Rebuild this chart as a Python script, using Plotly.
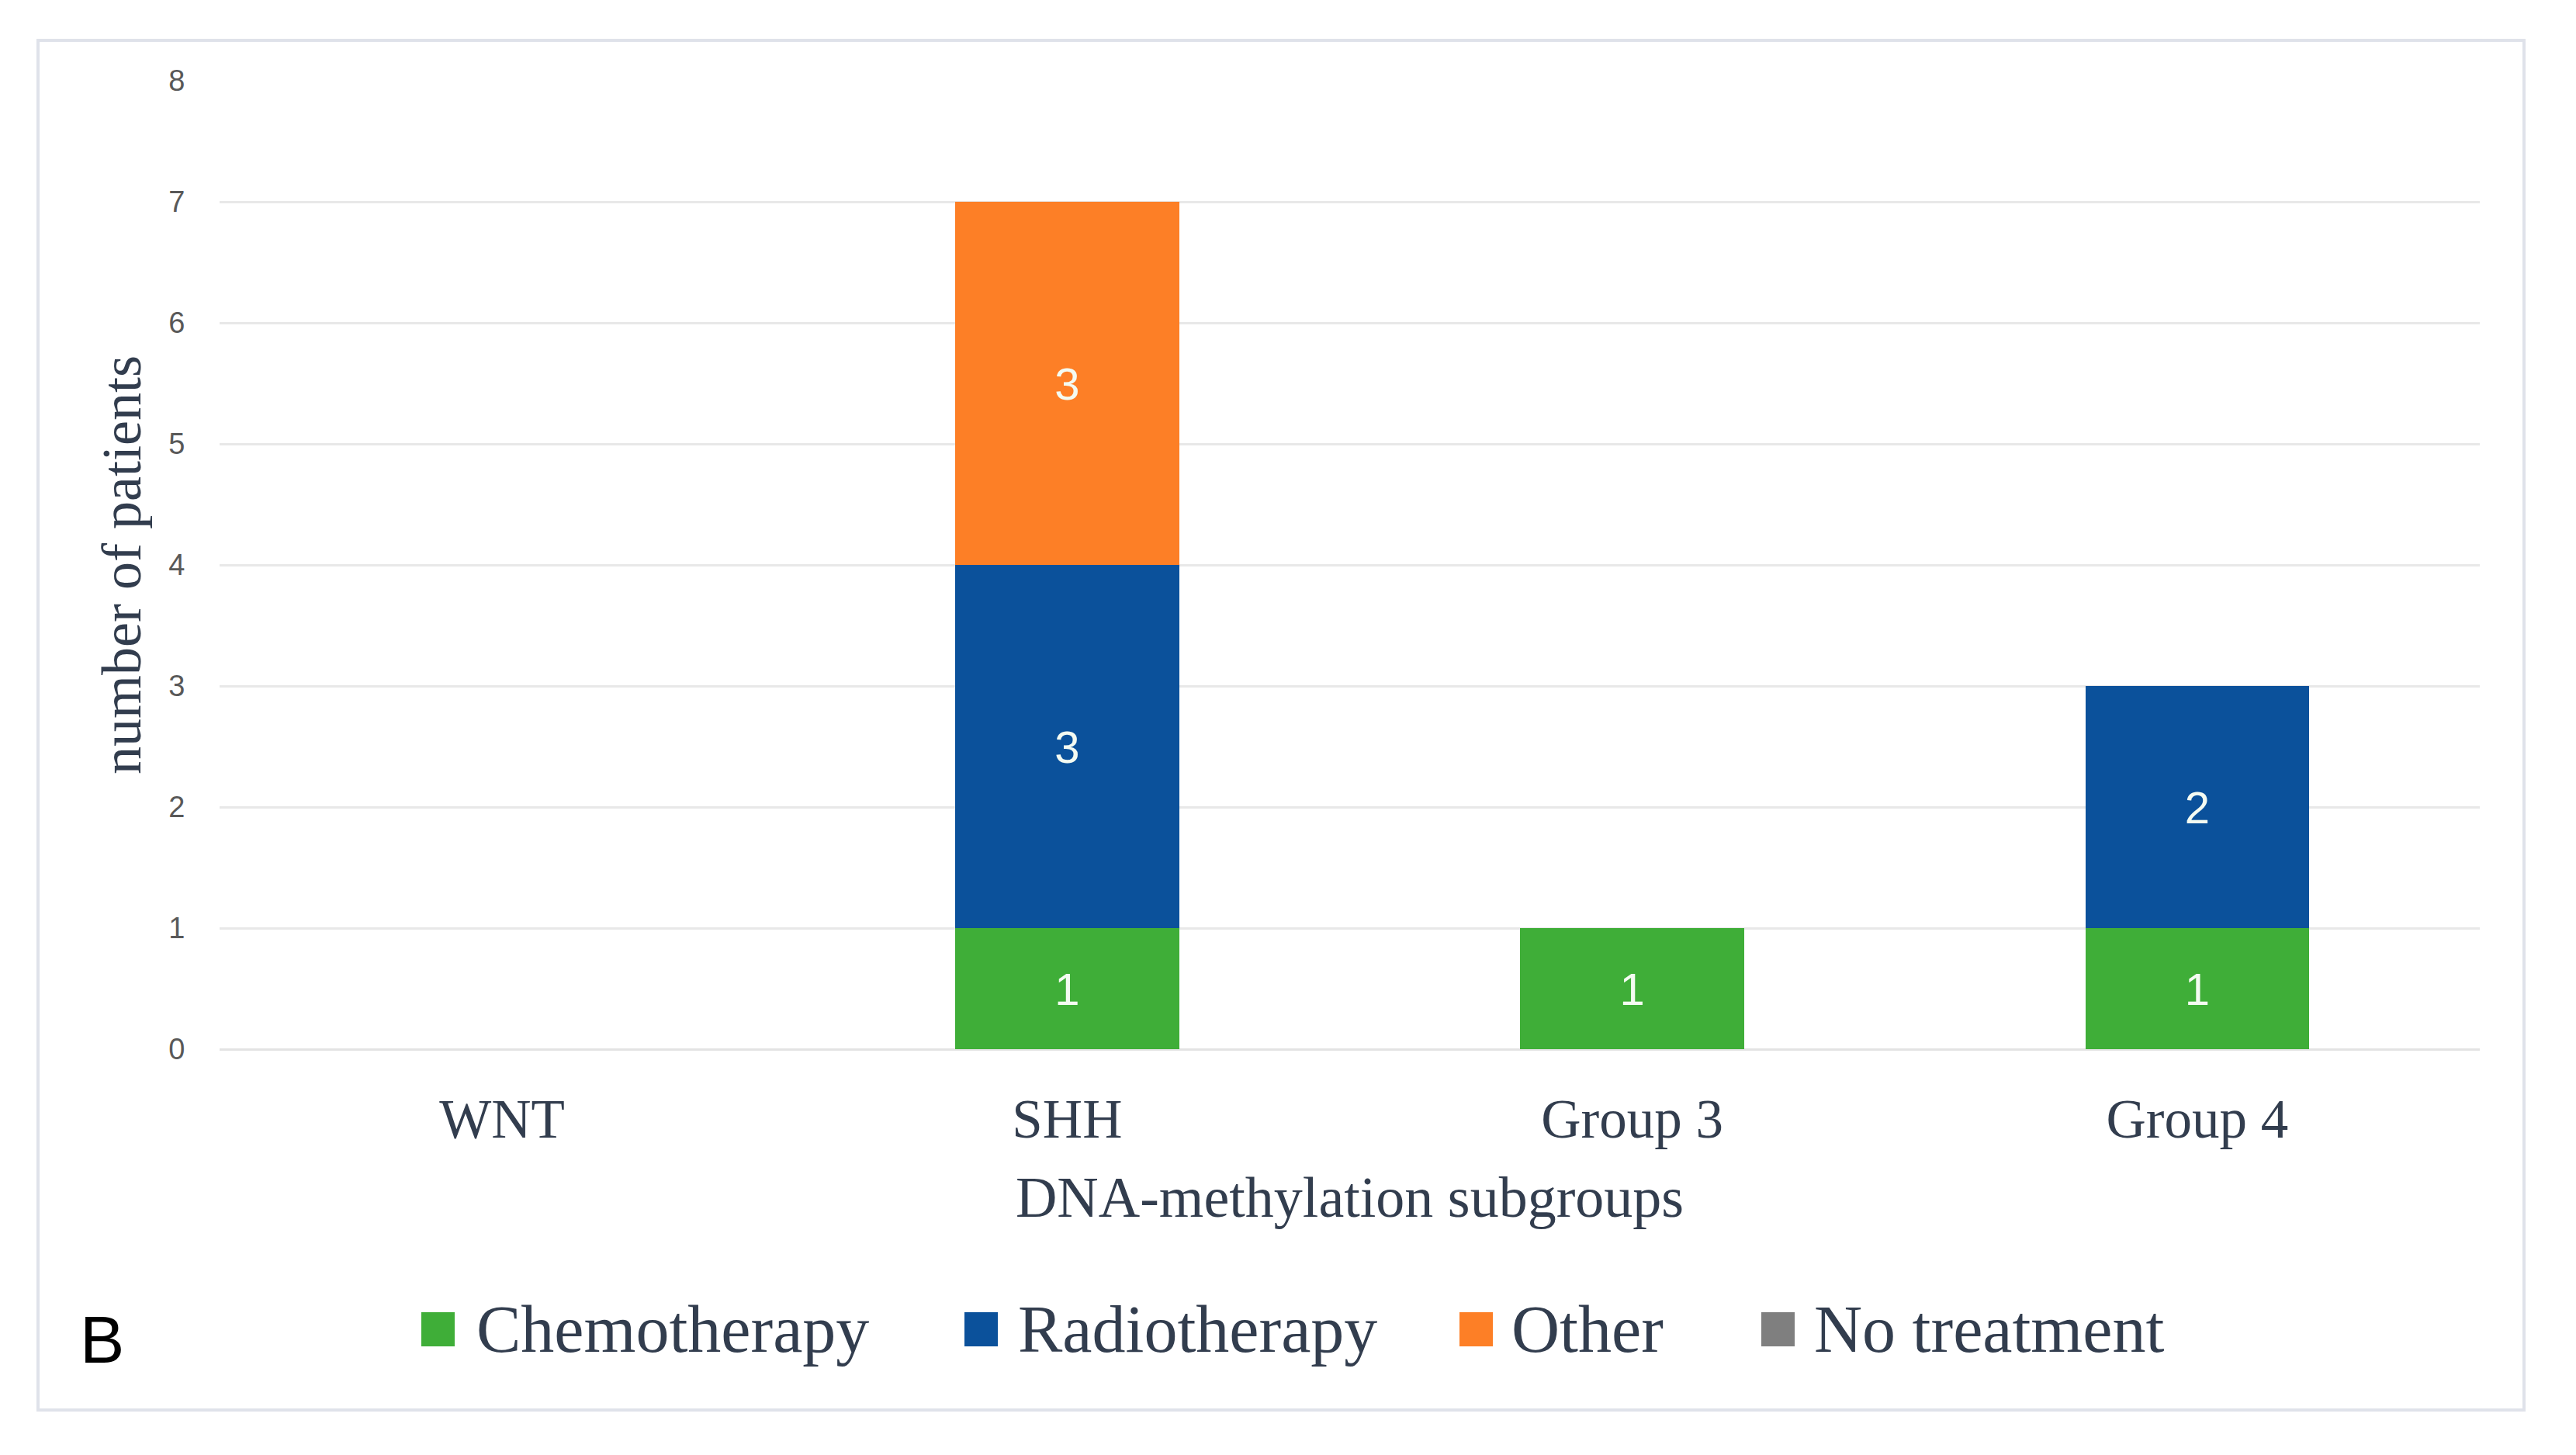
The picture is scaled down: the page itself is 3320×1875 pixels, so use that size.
import plotly.graph_objects as go

# ---- data ----
categories = ["WNT", "SHH", "Group 3", "Group 4"]
chemotherapy = [0, 1, 1, 1]
radiotherapy = [0, 3, 0, 2]
other = [0, 3, 0, 0]
no_treatment = [0, 0, 0, 0]
y_ticks = [0, 1, 2, 3, 4, 5, 6, 7, 8]

series_names = ["Chemotherapy", "Radiotherapy", "Other", "No treatment"]
series_values = [chemotherapy, radiotherapy, other, no_treatment]
series_colors = ["#3fae38", "#0b519b", "#fd7f26", "#7f7f7f"]

# ---- layout geometry (pixels) ----
W, H = 3320, 1875
L, R, T, B = 275, 3188, 96, 1344


def px(X):
    return (X - L) / (R - L)


def py(Y):
    return (B - Y) / (B - T)


SERIF = "Liberation Serif"
SANS = "Liberation Sans"
TEXT_COL = "#323d4e"

fig = go.Figure()
for name, vals, col in zip(series_names, series_values, series_colors):
    fig.add_trace(go.Bar(
        x=categories, y=vals, name=name,
        marker=dict(color=col, line=dict(width=0)),
        text=[str(v) if v else "" for v in vals],
        textposition="inside", insidetextanchor="middle",
        textfont=dict(family=SANS, size=58, color="#f4fbf2"),
        textangle=0,
        showlegend=False,
    ))

shapes = []
annotations = []

# outer frame
shapes.append(dict(type="rect", xref="paper", yref="paper",
                   x0=px(41), x1=px(3245), y0=py(1809), y1=py(44),
                   line=dict(color="#dfe2ea", width=4), fillcolor="rgba(0,0,0,0)",
                   layer="below"))

# legend (squares + labels)
legend_sq_left = [535, 1235, 1873, 2262]
legend_txt_left = [604, 1302, 1938, 2328]
for name, col, sx, tx in zip(series_names, series_colors, legend_sq_left, legend_txt_left):
    shapes.append(dict(type="rect", xref="paper", yref="paper",
                       x0=px(sx), x1=px(sx + 43), y0=py(1727), y1=py(1683),
                       line=dict(width=0), fillcolor=col))
    annotations.append(dict(xref="paper", yref="paper", x=px(tx), y=py(1705),
                            xanchor="left", yanchor="middle", showarrow=False,
                            text=name, font=dict(family=SERIF, size=86, color=TEXT_COL)))

# panel letter
annotations.append(dict(xref="paper", yref="paper", x=px(123), y=py(1718),
                        xanchor="center", yanchor="middle", showarrow=False,
                        text="B", font=dict(family=SANS, size=86, color="#000000")))

fig.update_layout(
    width=W, height=H,
    margin=dict(l=L, r=W - R, t=T, b=H - B, autoexpand=False),
    paper_bgcolor="white", plot_bgcolor="white",
    barmode="stack", bargap=0.604,
    shapes=shapes, annotations=annotations,
    showlegend=False,
    xaxis=dict(
        categoryorder="array", categoryarray=categories,
        showgrid=False, showline=False, zeroline=False,
        ticks="outside", ticklen=28, tickcolor="rgba(0,0,0,0)",
        tickfont=dict(family=SERIF, size=71, color=TEXT_COL),
        title=dict(text="DNA-methylation subgroups", standoff=35,
                   font=dict(family=SERIF, size=74, color=TEXT_COL)),
        automargin=False,
    ),
    yaxis=dict(
        range=[0, 8], tickvals=y_ticks,
        showgrid=True, gridcolor="#e8e8e8", gridwidth=3,
        zeroline=True, zerolinecolor="#e3e3e3", zerolinewidth=3,
        showline=False,
        ticks="outside", ticklen=36, tickcolor="rgba(0,0,0,0)",
        tickfont=dict(family=SANS, size=38, color="#595959"),
        title=dict(text="number of patients", standoff=12,
                   font=dict(family=SERIF, size=72, color=TEXT_COL)),
        automargin=False,
    ),
)

fig.write_html("out.html")
